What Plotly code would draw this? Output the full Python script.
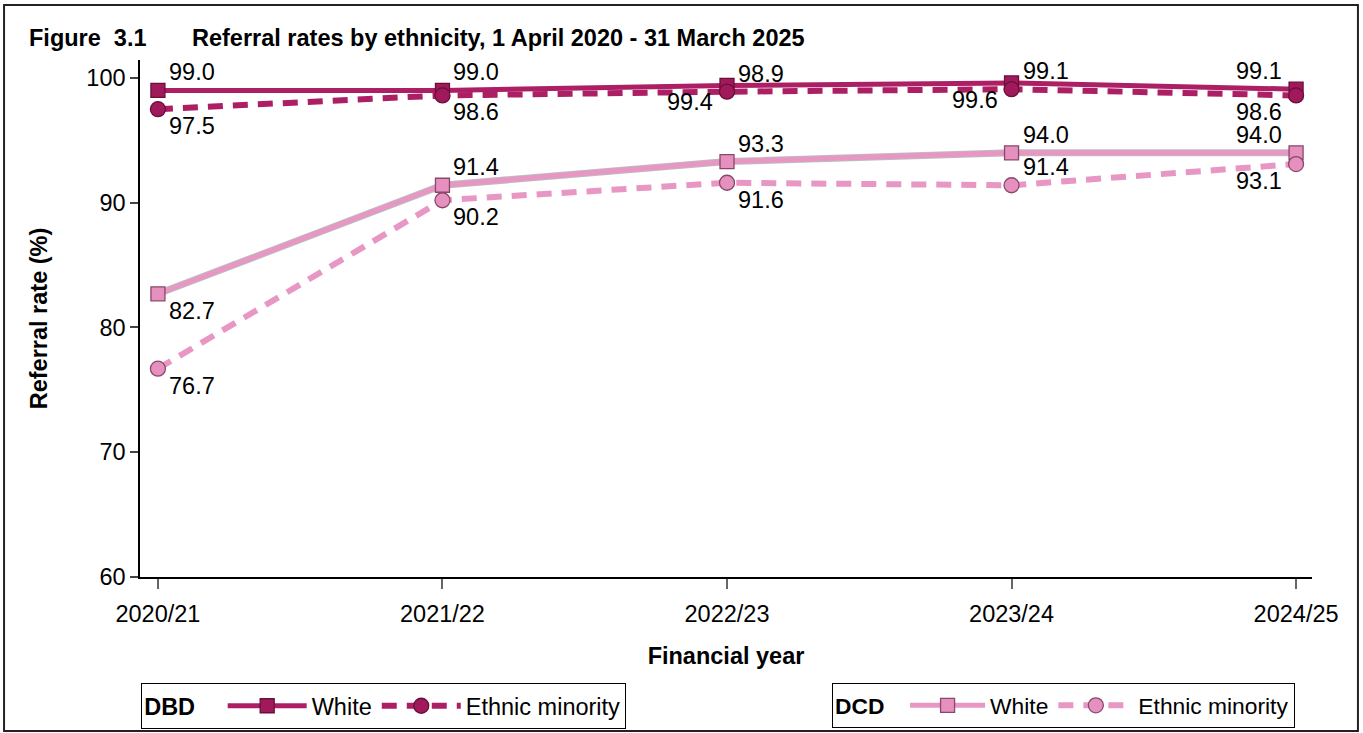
import plotly.graph_objects as go

# ---------------- data ----------------
years = ["2020/21", "2021/22", "2022/23", "2023/24", "2024/25"]
dbd_white = [99.0, 99.0, 99.4, 99.6, 99.1]
dbd_ethnic = [97.5, 98.6, 98.9, 99.1, 98.6]
dcd_white = [82.7, 91.4, 93.3, 94.0, 94.0]
dcd_ethnic = [76.7, 90.2, 91.6, 91.4, 93.1]
y_ticks = [60, 70, 80, 90, 100]

# label placement (style): t/b = above/below, r/l = right/left of marker
place_dbd_white = ["tr", "tr", "bl", "bl", "tl"]
place_dbd_ethnic = ["br", "br", "tr", "tr", "bl"]
place_dcd_white = ["br", "tr", "tr", "tr", "tl"]
place_dcd_ethnic = ["br", "br", "br", "tr", "bl"]

FONT = "Arial, 'Liberation Sans', sans-serif"
FS = 23.5
DBD_LINE = "#AD1F64"
DBD_FILL = "#A01A5B"
DBD_EDGE = "#6A0E3B"
DCD_LINE = "#E896C4"
DCD_FILL = "#E690C0"
DCD_EDGE = "#8A4868"

fig = go.Figure()

# soft gray edge under the light solid series
fig.add_trace(go.Scatter(x=years, y=dcd_white, mode="lines", showlegend=False,
                         hoverinfo="skip",
                         line=dict(color="rgba(160,160,160,0.7)", width=7)))

def add_series(vals, name, legend, color, fill, edge, dashed, symbol):
    fig.add_trace(go.Scatter(
        x=years, y=vals, name=name, legend=legend, mode="lines+markers",
        line=dict(color=color, width=6 if dashed else 5,
                  dash="15px,10px" if dashed else "solid"),
        marker=dict(symbol=symbol, size=14 if symbol == "square" else 15,
                    color=fill, line=dict(color=edge, width=1.3)),
        cliponaxis=False))

add_series(dcd_white, "White", "legend2", DCD_LINE, DCD_FILL, DCD_EDGE, False, "square")
add_series(dcd_ethnic, "Ethnic minority", "legend2", DCD_LINE, DCD_FILL, DCD_EDGE, True, "circle")
add_series(dbd_white, "White", "legend", DBD_LINE, DBD_FILL, DBD_EDGE, False, "square")
add_series(dbd_ethnic, "Ethnic minority", "legend", DBD_LINE, DBD_FILL, DBD_EDGE, True, "circle")

# value labels
annotations = []
for vals, places in ((dbd_white, place_dbd_white), (dbd_ethnic, place_dbd_ethnic),
                     (dcd_white, place_dcd_white), (dcd_ethnic, place_dcd_ethnic)):
    for yr, v, p in zip(years, vals, places):
        annotations.append(dict(
            x=yr, y=v, xref="x", yref="y", text=f"{v:.1f}", showarrow=False,
            xanchor="left" if p[1] == "r" else "right", yanchor="middle",
            xshift=9 if p[1] == "r" else -12, yshift=18 if p[0] == "t" else -17,
            font=dict(family=FONT, size=FS, color="black")))

# figure title
annotations.append(dict(text="<b>Figure  3.1</b>", xref="paper", yref="paper",
                        x=-0.0964, y=1.0435, xanchor="left", yanchor="middle",
                        showarrow=False, font=dict(family=FONT, size=FS, color="black")))
annotations.append(dict(text="<b>Referral rates by ethnicity, 1 April 2020 - 31 March 2025</b>",
                        xref="paper", yref="paper", x=0.0427, y=1.0435,
                        xanchor="left", yanchor="middle", showarrow=False,
                        font=dict(family=FONT, size=FS, color="black")))

legend_common = dict(orientation="h", bgcolor="white", bordercolor="black",
                     borderwidth=1, yanchor="top", y=-0.205, tracegroupgap=0)

fig.update_layout(
    width=1363, height=733,
    margin=dict(l=140, r=51, t=60, b=156, autoexpand=False),
    paper_bgcolor="white", plot_bgcolor="white",
    font=dict(family=FONT, size=FS, color="black"),
    showlegend=True,
    legend=dict(**legend_common, x=0.001, xanchor="left", itemwidth=79,
                font=dict(family=FONT, size=FS, color="black"),
                title=dict(text="<b>DBD</b>&nbsp;&nbsp;&nbsp;",
                           font=dict(family=FONT, size=FS, color="black"))),
    legend2=dict(**legend_common, x=0.9855, xanchor="right", itemwidth=75,
                 font=dict(family=FONT, size=22.8, color="black"),
                 title=dict(text="<b>DCD</b>&nbsp;&nbsp;",
                            font=dict(family=FONT, size=22.8, color="black"))),
    xaxis=dict(type="category", range=[-0.063, 4.056], showgrid=False, zeroline=False,
               showline=True, linecolor="black", linewidth=1.5,
               ticks="outside", ticklen=10, tickcolor="#666", tickwidth=1.5,
               ticklabelstandoff=5,
               tickfont=dict(family=FONT, size=FS, color="black"), automargin=False,
               title=dict(text="<b>Financial year</b>", standoff=22,
                          font=dict(family=FONT, size=FS, color="black"))),
    yaxis=dict(range=[60, 101.44], tickvals=y_ticks, showgrid=False, zeroline=False,
               showline=True, linecolor="black", linewidth=1.5,
               ticks="outside", ticklen=8, tickcolor="#444", tickwidth=1.5,
               tickfont=dict(family=FONT, size=FS, color="black"), automargin=False,
               title=dict(text="<b>Referral rate (%)</b>", standoff=32,
                          font=dict(family=FONT, size=FS, color="black"))),
    annotations=annotations,
    shapes=[dict(type="rect", xref="paper", yref="paper",
                 x0=-0.116, x1=1.0392, y0=-0.2979, y1=1.1064,
                 line=dict(color="#222", width=2), fillcolor="rgba(0,0,0,0)",
                 layer="below")],
)

fig.write_html("out.html", config={"displayModeBar": False},
               post_script="document.body.style.margin='0px';")
